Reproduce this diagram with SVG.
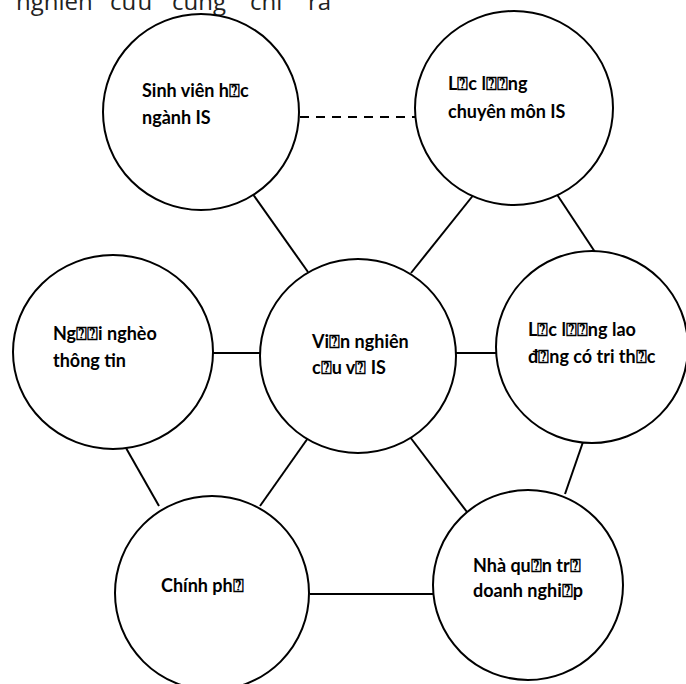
<svg xmlns="http://www.w3.org/2000/svg" width="686" height="684" viewBox="0 0 686 684">
  <style>
    .node { fill: #ffffff; stroke: #000000; stroke-width: 2; }
    .link { stroke: #000000; stroke-width: 2; fill: none; }
    .dash { stroke-dasharray: 9 7; }
    .label { font-family: Lato, "Liberation Sans", sans-serif; font-weight: bold; font-size: 18px; fill: #000000; }
    .heading { font-family: "Open Sans", "Noto Sans", sans-serif; font-size: 24px; fill: #222222; }
  </style>
  <rect width="686" height="684" fill="#ffffff"/>

  <!-- running text line, clipped at the top edge -->
  <text class="heading" y="10">
    <tspan x="16">nghiên</tspan><tspan x="110">cứu</tspan><tspan x="172">cũng</tspan><tspan x="250">chỉ</tspan><tspan x="308">ra</tspan>
  </text>

  <!-- connectors -->
  <g id="connectors">
    <line class="link dash" x1="300" y1="117" x2="415" y2="117"/>
    <line class="link" x1="252" y1="193" x2="308" y2="272"/>
    <line class="link" x1="475" y1="193" x2="411" y2="273"/>
    <line class="link" x1="556" y1="193" x2="595" y2="252"/>
    <line class="link" x1="212" y1="353" x2="261" y2="353"/>
    <line class="link" x1="455" y1="353" x2="496" y2="353"/>
    <line class="link" x1="126" y1="448" x2="159" y2="506"/>
    <line class="link" x1="308" y1="438" x2="260" y2="506"/>
    <line class="link" x1="410" y1="437" x2="467" y2="512"/>
    <line class="link" x1="583" y1="442" x2="565" y2="494"/>
    <line class="link" x1="310" y1="594" x2="433" y2="594"/>
  </g>

  <g id="sinh-vien">
    <ellipse class="node" cx="201" cy="112" rx="98" ry="98"/>
    <text class="label" x="142" y="97">Sinh viên h⍰c</text>
    <text class="label" x="142" y="124">ngành IS</text>
  </g>

  <g id="luc-luong-chuyen-mon">
    <ellipse class="node" cx="514" cy="108" rx="99" ry="97"/>
    <text class="label" x="448" y="90">L⍰c l⍰⍰ng</text>
    <text class="label" x="448" y="118">chuyên môn IS</text>
  </g>

  <g id="nguoi-ngheo">
    <ellipse class="node" cx="113" cy="352" rx="100" ry="97"/>
    <text class="label" x="53" y="340">Ng⍰⍰i nghèo</text>
    <text class="label" x="53" y="367">thông tin</text>
  </g>

  <g id="vien-nghien-cuu">
    <ellipse class="node" cx="358" cy="356" rx="98" ry="97"/>
    <text class="label" x="312" y="348">Vi⍰n nghiên</text>
    <text class="label" x="312" y="374">c⍰u v⍰ IS</text>
  </g>

  <g id="luc-luong-lao-dong">
    <ellipse class="node" cx="592" cy="347" rx="96" ry="96"/>
    <text class="label" x="528" y="336">L⍰c l⍰⍰ng lao</text>
    <text class="label" x="528" y="363">đ⍰ng có tri th⍰c</text>
  </g>

  <g id="chinh-phu">
    <ellipse class="node" cx="212" cy="593" rx="97" ry="97"/>
    <text class="label" x="161" y="592">Chính ph⍰</text>
  </g>

  <g id="nha-quan-tri">
    <ellipse class="node" cx="528" cy="585" rx="95" ry="95"/>
    <text class="label" x="473" y="572">Nhà qu⍰n tr⍰</text>
    <text class="label" x="473" y="597">doanh nghi⍰p</text>
  </g>
</svg>
